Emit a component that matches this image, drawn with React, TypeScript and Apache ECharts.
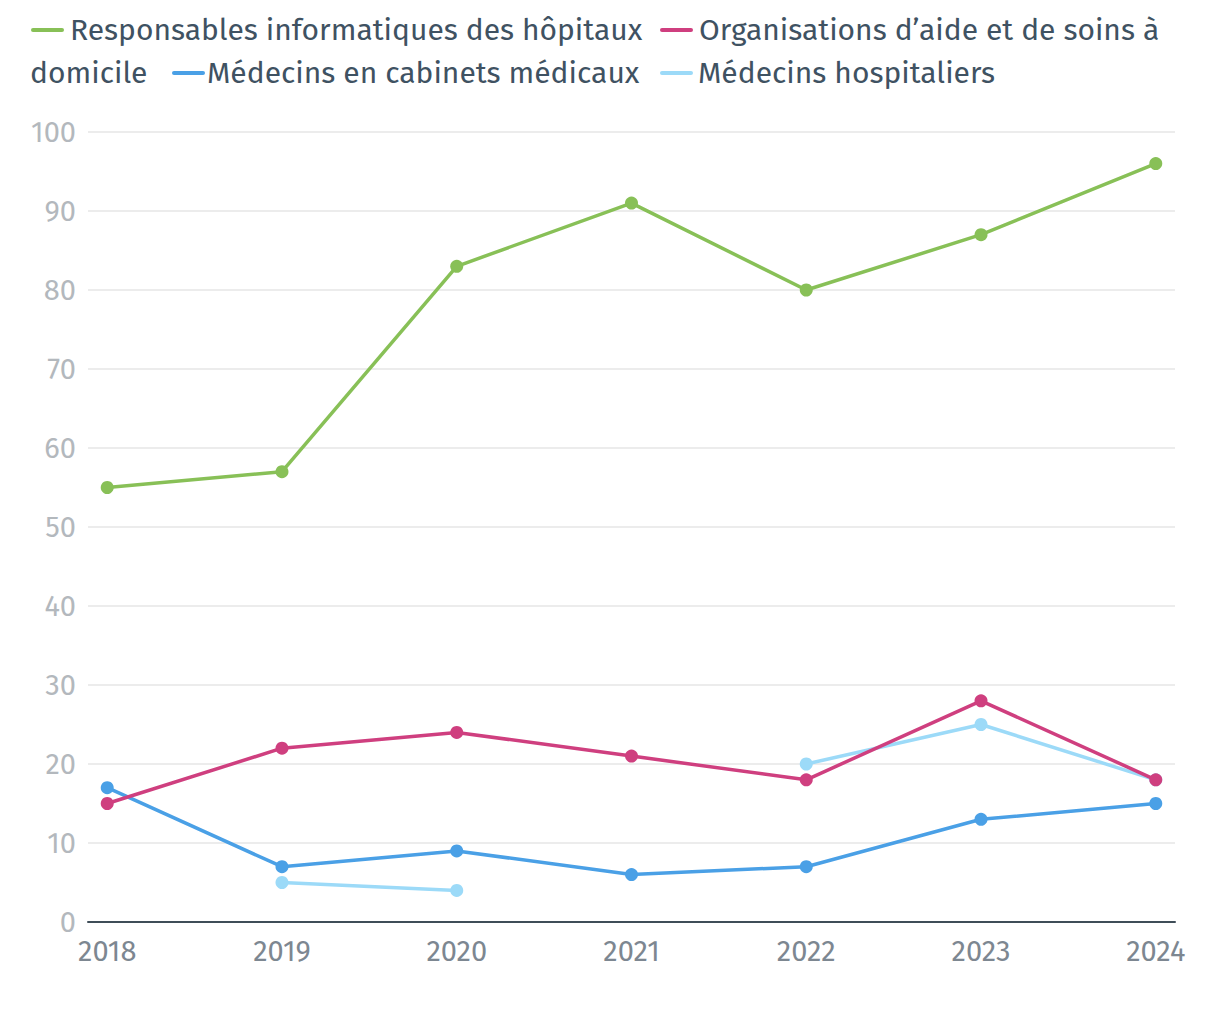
import React, { useEffect, useRef } from "react";
import * as echarts from "echarts";

const years = [2018, 2019, 2020, 2021, 2022, 2023, 2024];
const yTicks = [0, 10, 20, 30, 40, 50, 60, 70, 80, 90, 100];
const seriesNames = [
  "Responsables informatiques des hôpitaux",
  "Organisations d’aide et de soins à domicile",
  "Médecins en cabinets médicaux",
  "Médecins hospitaliers",
];
const greenValues = [55, 57, 83, 91, 80, 87, 96];
const pinkValues = [15, 22, 24, 21, 18, 28, 18];
const blueValues = [17, 7, 9, 6, 7, 13, 15];
const lightBlueValues: (number | null)[] = [null, 5, 4, null, 20, 25, 18];
const colors = ["#88c057", "#cf3f7f", "#4aa0e6", "#9cdaf8"];

const FONT = "'Fira Sans', 'Noto Sans', 'Open Sans', sans-serif";
const TEXT = "#3f5262";

export default function App() {
  const ref = useRef<HTMLDivElement>(null);
  useEffect(() => {
    document.body.style.margin = "0";
    if (!ref.current) return;
    const chart = echarts.init(ref.current, undefined, { renderer: "svg" });
    const allValues = [greenValues, pinkValues, blueValues, lightBlueValues];
    const z = [2, 4, 3, 2];
    const series = allValues.map((vals, i) => ({
      type: "line",
      name: seriesNames[i],
      data: years.map((y, j) => [y, vals[j]]),
      connectNulls: false,
      symbol: "circle",
      symbolSize: 13,
      showSymbol: true,
      z: z[i],
      lineStyle: { width: 3.5, color: colors[i] },
      itemStyle: { color: colors[i] },
      emphasis: { disabled: true },
    }));

    // legend drawn as flowing text (wraps mid-item like the original)
    const legendItems = [
      { icon: [33, 62], textX: 70, y: 30, text: seriesNames[0], c: 0 },
      { icon: [662, 691], textX: 699, y: 30, text: "Organisations d’aide et de soins à", c: 1 },
      { icon: null, textX: 30, y: 73, text: "domicile", c: 1 },
      { icon: [174, 203], textX: 207, y: 73, text: seriesNames[2], c: 2 },
      { icon: [662, 691], textX: 698, y: 73, text: seriesNames[3], c: 3 },
    ];
    const graphic: any[] = [];
    legendItems.forEach((it) => {
      if (it.icon) {
        graphic.push({
          type: "line",
          shape: { x1: it.icon[0], y1: it.y, x2: it.icon[1], y2: it.y },
          style: { stroke: colors[it.c], lineWidth: 4, lineCap: "round" },
        });
      }
      graphic.push({
        type: "text",
        x: it.textX,
        y: it.y,
        style: {
          text: it.text,
          fill: TEXT,
          font: `30px ${FONT}`,
          verticalAlign: "middle",
          align: "left",
        },
      });
    });

    chart.setOption({
      animation: false,
      backgroundColor: "#ffffff",
      textStyle: { fontFamily: FONT },
      grid: { left: 88, right: 45, top: 132, bottom: 98, containLabel: false },
      graphic,
      xAxis: {
        type: "value",
        min: 2017.89,
        max: 2024.11,
        splitLine: { show: false },
        axisTick: { show: false },
        axisLine: { show: true, lineStyle: { color: "#3f4d58", width: 2 } },
        axisLabel: {
          customValues: years,
          formatter: (v: number) => String(v),
          color: "#7d8791",
          fontSize: 29,
          margin: 15,
          fontFamily: FONT,
        },
      },
      yAxis: {
        type: "value",
        min: 0,
        max: 100,
        interval: 10,
        axisLine: { show: false },
        axisTick: { show: false },
        splitLine: { show: true, lineStyle: { color: "#e6e6e6", width: 1.5 } },
        axisLabel: {
          customValues: yTicks,
          color: "#b3b8bd",
          fontSize: 29,
          margin: 12,
          fontFamily: FONT,
        },
      },
      series,
    });
    return () => chart.dispose();
  }, []);
  return <div ref={ref} style={{ width: 1220, height: 1020 }} />;
}
